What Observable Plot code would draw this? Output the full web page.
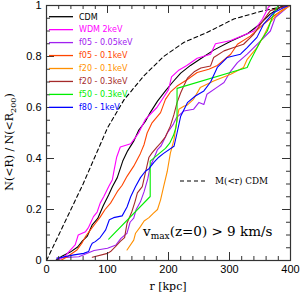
<!DOCTYPE html>
<html><head><meta charset="utf-8">
<script src="https://cdn.jsdelivr.net/npm/d3@7"></script>
<script src="https://cdn.jsdelivr.net/npm/@observablehq/plot@0.6"></script>
<style>body{margin:0;background:#fff} svg{display:block}</style>
</head><body><div id="chart"></div>
<script>
// r [kpc], N(<R)/N(<R200)
const massCDM = [[0,0],[20,0.1],[40,0.2],[60,0.3],[80,0.41],[100,0.52],[127,0.63],[160,0.725],[192,0.8],[225,0.855],[263,0.894],[307,0.947],[356,0.98],[397,1.0]];
const cdm = [[15,0],[26,0.018],[39,0.033],[51,0.053],[59,0.077],[67,0.096],[75,0.14],[84,0.165],[93,0.215],[102,0.258],[108,0.289],[116,0.325],[125,0.39],[133,0.43],[143,0.468],[151,0.51],[162,0.545],[170,0.58],[182,0.625],[195,0.665],[207,0.7],[220,0.735],[236,0.765],[252,0.79],[274,0.825],[302,0.86],[330,0.89],[351,0.93],[367,0.967],[384,0.994],[397,1.0]];
const wdm2 = [[18,0],[31,0.018],[39,0.041],[47,0.061],[52,0.1],[64,0.113],[69,0.13],[77,0.172],[83,0.19],[88,0.225],[94,0.251],[102,0.29],[108,0.317],[111,0.356],[115,0.405],[121,0.445],[138,0.458],[145,0.48],[151,0.5],[162,0.553],[181,0.6],[192,0.64],[200,0.67],[205,0.72],[216,0.745],[230,0.765],[247,0.793],[269,0.809],[277,0.85],[291,0.857],[302,0.863],[340,0.9],[354,0.947],[364,0.994],[367,1.0]];
const f05_005 = [[17,0.01],[53,0.015],[78,0.039],[100,0.048],[114,0.061],[122,0.087],[132,0.107],[137,0.15],[143,0.166],[147,0.2],[154,0.23],[160,0.27],[166,0.32],[170,0.37],[176,0.4],[182,0.435],[188,0.45],[198,0.5],[208,0.535],[213,0.56],[225,0.586],[241,0.593],[250,0.62],[258,0.612],[263,0.652],[280,0.68],[291,0.698],[302,0.743],[313,0.776],[329,0.809],[351,0.861],[367,0.9],[375,0.953],[395,0.993],[400,1.0]];
const f05_01 = [[23,0],[34,0.015],[50,0.041],[58,0.068],[64,0.094],[72,0.12],[80,0.145],[88,0.17],[96,0.2],[105,0.225],[110,0.245],[116,0.27],[124,0.295],[132,0.33],[143,0.37],[154,0.42],[160,0.455],[165,0.5],[173,0.54],[187,0.58],[195,0.632],[203,0.66],[214,0.684],[231,0.71],[247,0.737],[266,0.75],[280,0.765],[302,0.809],[313,0.848],[334,0.88],[356,0.927],[373,0.96],[389,0.986],[397,1.0]];
const f20_01 = [[132,0.041],[143,0.08],[146,0.107],[154,0.133],[160,0.155],[168,0.168],[175,0.185],[182,0.2],[187,0.238],[192,0.29],[198,0.35],[203,0.42],[209,0.474],[214,0.553],[217,0.593],[225,0.605],[231,0.61],[241,0.632],[252,0.678],[274,0.704],[302,0.73],[323,0.757],[329,0.789],[345,0.835],[356,0.88],[367,0.934],[378,0.966],[395,0.993],[400,1.0]];
const f20_03 = [[75,0.013],[100,0.028],[105,0.035],[113,0.054],[121,0.075],[128,0.09],[132,0.146],[140,0.192],[145,0.23],[149,0.265],[157,0.29],[162,0.343],[168,0.405],[173,0.422],[181,0.445],[187,0.46],[195,0.485],[203,0.527],[209,0.573],[214,0.619],[220,0.658],[225,0.684],[231,0.715],[242,0.74],[253,0.755],[269,0.763],[274,0.796],[291,0.822],[307,0.835],[323,0.848],[340,0.888],[351,0.927],[367,0.98],[395,1.0]];
const f50_03 = [[102,0.084],[170,0.251],[170,0.39],[185,0.42],[195,0.44],[202,0.46],[208,0.49],[212,0.52],[214,0.55],[214,0.675],[329,0.757],[334,0.783],[351,0.861],[362,0.9],[370,0.953],[378,0.993],[380,1.0]];
const f80_1 = [[17,0.009],[45,0.022],[61,0.028],[69,0.035],[72,0.054],[75,0.068],[80,0.074],[88,0.09],[97,0.12],[103,0.16],[110,0.168],[118,0.172],[124,0.175],[132,0.21],[138,0.25],[146,0.29],[154,0.325],[162,0.35],[168,0.36],[176,0.385],[184,0.405],[192,0.42],[209,0.448],[214,0.5],[220,0.566],[231,0.619],[244,0.645],[258,0.665],[269,0.7],[280,0.757],[296,0.796],[318,0.809],[329,0.835],[345,0.875],[356,0.927],[373,0.973],[390,0.993],[397,1.0]];

const seriesNames = ["CDM","WDM 2keV","f05 - 0.05keV","f05 - 0.1keV","f20 - 0.1keV","f20 - 0.3keV","f50 - 0.3keV","f80 - 1keV"];
const seriesColors = ["#000000","#ff00ff","#a020f0","#ff4500","#ff9000","#a52a2a","#00ee00","#0000ff"];
const seriesData = [cdm, wdm2, f05_005, f05_01, f20_01, f20_03, f50_03, f80_1];

const xMajor = [0,100,200,300,400];
const xMinor = d3.range(0,401,20);
const yMajor = [0,0.2,0.4,0.6,0.8,1];
const yMinor = d3.range(0,1.0001,0.05);

const W=300,H=294,mt=5,mr=10,mb=34,ml=46;
const FH=H-mt-mb, FW=W-ml-mr;

const plot = Plot.plot({
  width:W, height:H, marginTop:mt, marginRight:mr, marginBottom:mb, marginLeft:ml,
  x:{domain:[0,400]}, y:{domain:[0,1]},
  style:{fontFamily:"Liberation Sans, Arial, sans-serif", fontSize:"11px", background:"#fff", color:"#000"},
  marks:[
    Plot.line(massCDM, {x:d=>d[0], y:d=>d[1], stroke:"#000", strokeWidth:1.1, strokeDasharray:"4,3"}),
    ...seriesData.map((s,i)=>Plot.line(s, {x:d=>d[0], y:d=>d[1], stroke:seriesColors[i], strokeWidth:1.1})),
    Plot.tickX(xMinor, {x:d=>d, insetTop:FH-4, stroke:"#333"}),
    Plot.tickX(xMinor, {x:d=>d, insetBottom:FH-4, stroke:"#333"}),
    Plot.tickX(xMajor, {x:d=>d, insetTop:FH-8, stroke:"#333"}),
    Plot.tickX(xMajor, {x:d=>d, insetBottom:FH-8, stroke:"#333"}),
    Plot.tickY(yMinor, {y:d=>d, insetRight:FW-4, stroke:"#333"}),
    Plot.tickY(yMinor, {y:d=>d, insetLeft:FW-4, stroke:"#333"}),
    Plot.tickY(yMajor, {y:d=>d, insetRight:FW-8, stroke:"#333"}),
    Plot.tickY(yMajor, {y:d=>d, insetLeft:FW-8, stroke:"#333"}),
    Plot.frame({stroke:"#333", strokeWidth:1.2}),
    Plot.axisX(xMajor, {tickSize:0, tickPadding:5, label:null}),
    Plot.axisY(yMajor, {tickSize:0, tickPadding:5, label:null, tickFormat:d=>String(+d.toFixed(1))})
  ]
});
document.getElementById("chart").appendChild(plot);

const svg = d3.select(plot);
const serif = "DejaVu Serif, serif";
// legend
const lg = svg.append("g").attr("text-anchor","start");
seriesNames.forEach((name,i)=>{
  const y = 16.7 + i*12.95;
  lg.append("line").attr("x1",49).attr("x2",73).attr("y1",y).attr("y2",y).attr("stroke",seriesColors[i]).attr("stroke-width",1.3);
  lg.append("text").attr("x",79).attr("y",y).attr("dy","0.35em").attr("fill",seriesColors[i])
    .attr("font-family","DejaVu Sans, sans-serif").attr("font-size",8).text(name);
});
// M(<r) CDM label
svg.append("line").attr("x1",180).attr("x2",206).attr("y1",181).attr("y2",181).attr("stroke","#000").attr("stroke-width",1.1).attr("stroke-dasharray","4,3");
svg.append("text").attr("x",215).attr("y",181).attr("dy","0.35em").attr("text-anchor","start").attr("font-family",serif).attr("font-size",8.8).text("M(<r) CDM");
// vmax annotation
const t = svg.append("text").attr("x",143).attr("y",236).attr("text-anchor","start").attr("font-family",serif).attr("font-size",13.5);
t.append("tspan").text("v");
t.append("tspan").attr("font-size",9).attr("dy",3).text("max");
t.append("tspan").attr("dy",-3).text("(z=0) > 9 km/s");
// axis titles
svg.append("text").attr("x",168).attr("y",290).attr("text-anchor","middle").attr("font-family",serif).attr("font-size",11).text("r [kpc]");
const yl = svg.append("text").attr("transform","translate(13,142) rotate(-90)").attr("text-anchor","middle").attr("font-family",serif).attr("font-size",11);
yl.append("tspan").text("N(<R) / N(<R");
yl.append("tspan").attr("font-size",8).attr("dy",3).text("200");
yl.append("tspan").attr("dy",-3).text(")");
</script></body></html>
